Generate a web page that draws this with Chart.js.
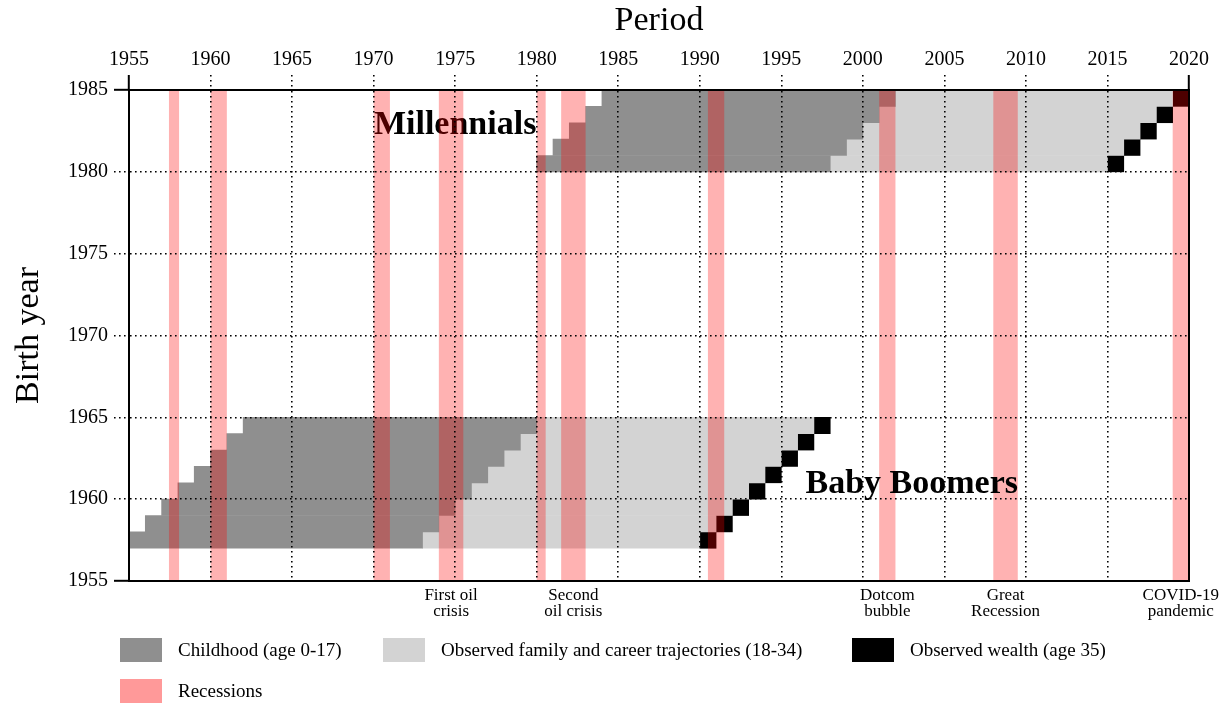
<!DOCTYPE html>
<html><head><meta charset="utf-8">
<script src="https://cdn.jsdelivr.net/npm/chart.js@4.4.1/dist/chart.umd.min.js"></script>
<style>
html,body{margin:0;padding:0;background:#fff;}
#wrap{position:relative;width:1229px;height:706px;overflow:hidden;font-family:"Liberation Serif","Times New Roman",serif;}
#c{position:absolute;left:0;top:0;}
.sw{position:absolute;width:42px;height:24px;}
.lt{position:absolute;font-size:19px;line-height:24px;height:24px;color:#000;white-space:nowrap;}
</style></head>
<body><div id="wrap"><canvas id="c" width="1229" height="706"></canvas><div id="legend"></div></div>
<script>
// ---- data ----
const birthYears      = [1957,1958,1959,1960,1961,1962,1963,1964,1980,1981,1982,1983,1984];
const childhoodStart  = [1955,1956,1957,1958,1959,1960,1961,1962,1980,1981,1982,1983,1984];
const childhoodEnd    = [1973,1974,1975,1976,1977,1978,1979,1980,1998,1999,2000,2001,2002];
const trajectoriesEnd = [1990,1991,1992,1993,1994,1995,1996,1997,2015,2016,2017,2018,2019];
const wealthEnd       = [1991,1992,1993,1994,1995,1996,1997,1998,2016,2017,2018,2019,2020];
const recessionStart  = [1957.45,1960.0,1970.0,1974.0,1980.0,1981.5,1990.5,2001.0,2008.0,2019.0];
const recessionEnd    = [1958.07,1961.0,1971.0,1975.5,1980.55,1983.0,1991.5,2002.0,2009.5,2020.0];
const recessionNames  = ['','','','First oil\ncrisis','','Second\noil crisis','','Dotcom\nbubble','Great\nRecession','COVID-19\npandemic'];
const cohortNames  = ['Millennials','Baby Boomers'];
const cohortLabelX = [1975, 2003];
const cohortLabelY = [1982.85, 1960.9];
const cohortUnderBands = [true, false];
const periodMin = 1955, periodMax = 2020, periodStep = 5;
const birthMin = 1955, birthMax = 1985, birthStep = 5;
const seriesLabels = ['Childhood (age 0-17)','Observed family and career trajectories (18-34)','Observed wealth (age 35)','Recessions'];
const seriesColors = ['#8f8f8f','#d3d3d3','#000000','#ff9999'];

const FONT = '"Liberation Serif", "Times New Roman", serif';
Chart.defaults.font.family = FONT;
Chart.defaults.color = '#000';

function rows(starts, ends){ return birthYears.map((b,i)=>({x:[starts[i], ends[i]], y:b+0.5})); }
const barBase = {grouped:false, barPercentage:1, categoryPercentage:1, borderWidth:0, borderSkipped:false};

const DOT = [1.6, 3.4];
function isEdge(c, lo, hi){ return c.tick && (c.tick.value === lo || c.tick.value === hi); }

function drawCohorts(ctx, x, y, under){
  ctx.save();
  ctx.font = 'bold 34px ' + FONT;
  ctx.fillStyle = '#000'; ctx.textAlign = 'center'; ctx.textBaseline = 'middle';
  cohortNames.forEach((n,i)=>{
    if (cohortUnderBands[i] !== under) return;
    ctx.fillText(n, x.getPixelForValue(cohortLabelX[i]), y.getPixelForValue(cohortLabelY[i]));
  });
  ctx.restore();
}

const overlay = {
  id:'overlay',
  afterDatasetsDraw(chart){
    const {ctx, chartArea:a, scales:{x, y}} = chart;
    drawCohorts(ctx, x, y, true);
    ctx.save();
    ctx.beginPath(); ctx.rect(a.left, a.top, a.right-a.left, a.bottom-a.top); ctx.clip();
    ctx.fillStyle = 'rgba(255,0,0,0.3)';
    const yTop = y.getPixelForValue(birthMax), yBot = y.getPixelForValue(birthMin);
    recessionStart.forEach((s,i)=>{
      const x0 = x.getPixelForValue(s), x1 = x.getPixelForValue(recessionEnd[i]);
      ctx.fillRect(x0, yTop, x1-x0, yBot-yTop);
    });
    ctx.restore();
    drawCohorts(ctx, x, y, false);
    ctx.save();
    ctx.font = '17px ' + FONT;
    ctx.fillStyle = '#000'; ctx.textAlign = 'center'; ctx.textBaseline = 'middle';
    recessionNames.forEach((n,i)=>{
      if(!n) return;
      const cx = x.getPixelForValue((recessionStart[i]+recessionEnd[i])/2);
      n.split('\n').forEach((line,j)=>ctx.fillText(line, cx, a.bottom + 15 + j*16));
    });
    ctx.restore();
  }
};

new Chart(document.getElementById('c'), {
  type:'bar',
  data:{
    datasets:[
      Object.assign({label:seriesLabels[0], data:rows(childhoodStart, childhoodEnd), backgroundColor:seriesColors[0]}, barBase),
      Object.assign({label:seriesLabels[1], data:rows(childhoodEnd, trajectoriesEnd), backgroundColor:seriesColors[1]}, barBase),
      Object.assign({label:seriesLabels[2], data:rows(trajectoriesEnd, wealthEnd), backgroundColor:seriesColors[2]}, barBase)
    ]
  },
  options:{
    indexAxis:'y',
    responsive:false,
    devicePixelRatio:1,
    animation:false,
    layout:{padding:{left:0, top:0, right:40, bottom:125}},
    plugins:{legend:{display:false}, tooltip:{enabled:false}},
    scales:{
      x:{
        type:'linear', position:'top', min:periodMin, max:periodMax, offset:false,
        ticks:{stepSize:periodStep, autoSkip:false, maxRotation:0, padding:3, color:'#000', font:{size:20}, callback:v=>String(v)},
        grid:{color:'#000', lineWidth:1.6, z:1, tickLength:15, offset:false,
              tickColor:'#000',
              tickWidth:c=>isEdge(c,periodMin,periodMax)?2:1.6,
              tickBorderDash:c=>isEdge(c,periodMin,periodMax)?[]:DOT},
        border:{display:true, color:'#000', width:2, dash:DOT, z:2},
        title:{display:true, text:'Period', color:'#000', font:{size:34}, padding:{top:1, bottom:0}},
        afterFit(s){ s.height = 90; }
      },
      y:{
        type:'linear', position:'left', min:birthMin, max:birthMax, offset:false,
        ticks:{stepSize:birthStep, autoSkip:false, padding:6, color:'#000', font:{size:20}, callback:v=>String(v)},
        grid:{color:'#000', lineWidth:1.6, z:1, tickLength:15, offset:false,
              tickColor:'#000',
              tickWidth:c=>isEdge(c,birthMin,birthMax)?2:1.6,
              tickBorderDash:c=>isEdge(c,birthMin,birthMax)?[]:DOT},
        border:{display:true, color:'#000', width:2, dash:DOT, z:2},
        title:{display:true, text:'Birth year', color:'#000', font:{size:34}, padding:{top:9, bottom:0}},
        afterFit(s){ s.width = 129; }
      },
      x2:{
        type:'linear', position:'bottom', min:periodMin, max:periodMax, offset:false,
        ticks:{display:false},
        grid:{display:true, color:'rgba(0,0,0,0)', drawOnChartArea:false, drawTicks:false, z:1},
        border:{display:true, color:'#000', width:2, z:2},
        afterFit(s){ s.height = 0; }
      },
      y2:{
        type:'linear', position:'right', min:birthMin, max:birthMax, offset:false,
        ticks:{display:false},
        grid:{display:true, color:'rgba(0,0,0,0)', drawOnChartArea:false, drawTicks:false, z:1},
        border:{display:true, color:'#000', width:2, z:2},
        afterFit(s){ s.width = 0; }
      }
    }
  },
  plugins:[overlay]
});

// ---- HTML legend ----
const legendPos = [[120,638],[383,638],[852,638],[120,679]];
const lg = document.getElementById('legend');
seriesLabels.forEach((t,i)=>{
  const sw = document.createElement('div'); sw.className='sw';
  sw.style.left = legendPos[i][0]+'px'; sw.style.top = legendPos[i][1]+'px'; sw.style.background = seriesColors[i];
  const tx = document.createElement('div'); tx.className='lt';
  tx.style.left = (legendPos[i][0]+58)+'px'; tx.style.top = legendPos[i][1]+'px'; tx.textContent = t;
  lg.appendChild(sw); lg.appendChild(tx);
});
</script>
</body></html>
